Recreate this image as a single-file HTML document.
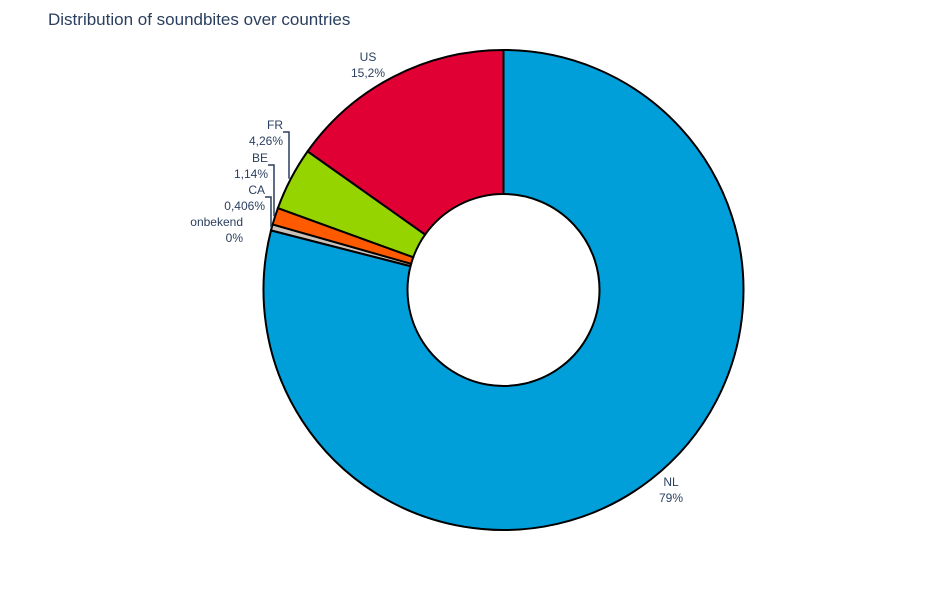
<!DOCTYPE html>
<html><head><meta charset="utf-8"><style>
body{margin:0;background:#fff;}
svg text{font-family:"Liberation Sans",sans-serif;fill:#2a3f5f;}
</style></head><body>
<svg width="950" height="600">
<text x="48" y="25" font-size="17">Distribution of soundbites over countries</text>
<g id="slices"></g>
<g id="labels" font-size="12"></g>
</svg>
<script>
const categories=["NL","onbekend","CA","BE","FR","US"];
const values=[79,0.001,0.406,1.14,4.26,15.2];
const valueLabels=["79%","0%","0,406%","1,14%","4,26%","15,2%"];
const colors=["#009fda","#c8c2bb","#c8c2bb","#ff5a00","#96d400","#e00034"];
const cx=503.5,cy=290,R=240,r=96;
const total=values.reduce((a,b)=>a+b,0);
const NS="http://www.w3.org/2000/svg";
const sg=document.getElementById('slices');
function pt(a,rad){return [cx+rad*Math.sin(a),cy-rad*Math.cos(a)];}
let a0=0;
const mids=[];
values.forEach((v,i)=>{
  const a1=a0+v/total*2*Math.PI;
  const large=(a1-a0)>Math.PI?1:0;
  const p1=pt(a0,R),p2=pt(a1,R),p3=pt(a1,r),p4=pt(a0,r);
  const p=document.createElementNS(NS,'path');
  p.setAttribute('d',`M${p1}L${p1}A${R},${R} 0 ${large} 1 ${p2}L${p3}A${r},${r} 0 ${large} 0 ${p4}Z`);
  p.setAttribute('fill',colors[i]);p.setAttribute('stroke','#000');p.setAttribute('stroke-width','2');
  
  
  sg.appendChild(p);
  mids.push((a0+a1)/2);
  a0=a1;
});
const lg=document.getElementById('labels');
function txt(x,y,s,anchor,name){const t=document.createElementNS(NS,'text');t.setAttribute('x',x);t.setAttribute('y',y);t.setAttribute('text-anchor',anchor);t.textContent=s;


lg.appendChild(t);}
function line(d,name){const p=document.createElementNS(NS,'path');p.setAttribute('d',d);p.setAttribute('fill','none');p.setAttribute('stroke','#2a3f5f');p.setAttribute('stroke-width','1.5');


lg.appendChild(p);}
// NL & US outside labels
function outLabel(i,ty){const m=mids[i];const p=pt(m,R+20);const anchor=Math.sin(m)>0.2?'start':(Math.sin(m)<-0.2?'end':'middle');
txt(p[0],ty,categories[i],anchor,'label-'+categories[i].toLowerCase());
txt(p[0],ty+16,valueLabels[i],anchor,'value-label-'+categories[i].toLowerCase());}
txt(671,486,categories[0],'middle','label-nl');txt(671,502,valueLabels[0],'middle','value-label-nl');
txt(368,61,categories[5],'middle','label-us');txt(368,77,valueLabels[5],'middle','value-label-us');
// small slices stacked labels
const ys={4:129,3:162,2:194,1:226};
const xs={4:283,3:268,2:265,1:243};
[4,3,2,1].forEach(i=>{
  const y=ys[i],x=xs[i];
  txt(x,y,categories[i],'end','label-'+categories[i].toLowerCase());
  txt(x,y+16,valueLabels[i],'end','value-label-'+categories[i].toLowerCase());
  if(i>1){const p=pt(mids[i],R);const lx=x+6;
    line(`M${x},${y+3}H${lx}V${p[1]}`,'connector-'+categories[i].toLowerCase());}
});
</script>
</body></html>
